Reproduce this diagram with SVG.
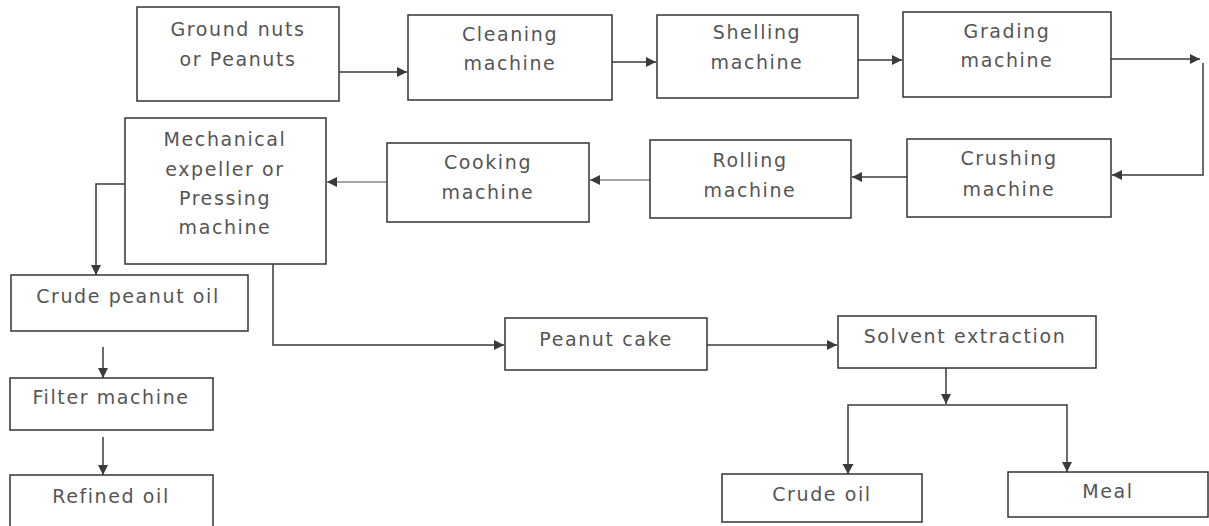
<svg xmlns="http://www.w3.org/2000/svg" width="1209" height="526" viewBox="0 0 1209 526">
<style>
.box{fill:#fff;stroke:#333;stroke-width:1.5}
.t{font-family:"DejaVu Sans","Open Sans",sans-serif;font-size:19px;fill:#555;text-anchor:middle;letter-spacing:1.6px}
.c{fill:none;stroke:#3a3a3a;stroke-width:1.5}
.cl{fill:none;stroke:#888;stroke-width:1.3}
</style>
<defs>
<marker id="ah" viewBox="0 0 10 10" refX="10" refY="5" markerWidth="11" markerHeight="10" markerUnits="userSpaceOnUse" orient="auto">
<path d="M0,0 L10,5 L0,10 z" fill="#3a3a3a"/>
</marker>
</defs>
<rect width="1209" height="526" fill="#fff"/>
<g id="connectors">
<line class="c" x1="339" y1="72" x2="407" y2="72" marker-end="url(#ah)"/>
<line class="c" x1="612" y1="62" x2="656" y2="62" marker-end="url(#ah)"/>
<line class="c" x1="858" y1="60" x2="902" y2="60" marker-end="url(#ah)"/>
<line class="c" x1="1111" y1="59" x2="1200" y2="59" marker-end="url(#ah)"/>
<path class="c" d="M1203,63 L1203,175 L1112,175" marker-end="url(#ah)"/>
<line class="c" x1="907" y1="177" x2="852" y2="177" marker-end="url(#ah)"/>
<line class="cl" x1="650" y1="180" x2="590" y2="180" marker-end="url(#ah)"/>
<line class="cl" x1="387" y1="182" x2="327" y2="182" marker-end="url(#ah)"/>
<path class="c" d="M125,184 L96,184 L96,275" marker-end="url(#ah)"/>
<line class="c" x1="103" y1="347" x2="103" y2="378" marker-end="url(#ah)"/>
<line class="c" x1="103" y1="437" x2="103" y2="475" marker-end="url(#ah)"/>
<path class="c" d="M273,264 L273,345 L504,345" marker-end="url(#ah)"/>
<line class="c" x1="707" y1="345" x2="837" y2="345" marker-end="url(#ah)"/>
<line class="c" x1="946" y1="368" x2="946" y2="404" marker-end="url(#ah)"/>
<path class="c" d="M848,474 L848,405 L1067,405 L1067,472" marker-end="url(#ah)"/>
<path d="M842.5,464 L853.5,464 L848,474 z" fill="#3a3a3a"/>
</g>
<g id="n1"><rect class="box" x="137" y="7" width="202" height="94"/><text class="t" x="238" y="36">Ground nuts</text><text class="t" x="238" y="66">or Peanuts</text></g>
<g id="n2"><rect class="box" x="408" y="15" width="204" height="85"/><text class="t" x="510" y="41">Cleaning</text><text class="t" x="510" y="70">machine</text></g>
<g id="n3"><rect class="box" x="657" y="15" width="201" height="83"/><text class="t" x="757" y="39">Shelling</text><text class="t" x="757" y="69">machine</text></g>
<g id="n4"><rect class="box" x="903" y="12" width="208" height="85"/><text class="t" x="1007" y="38">Grading</text><text class="t" x="1007" y="67">machine</text></g>
<g id="n5"><rect class="box" x="907" y="139" width="204" height="78"/><text class="t" x="1009" y="165">Crushing</text><text class="t" x="1009" y="196">machine</text></g>
<g id="n6"><rect class="box" x="650" y="140" width="201" height="78"/><text class="t" x="750" y="167">Rolling</text><text class="t" x="750" y="197">machine</text></g>
<g id="n7"><rect class="box" x="387" y="143" width="202" height="79"/><text class="t" x="488" y="169">Cooking</text><text class="t" x="488" y="199">machine</text></g>
<g id="n8"><rect class="box" x="125" y="118" width="201" height="146"/><text class="t" x="225" y="146">Mechanical</text><text class="t" x="225" y="176">expeller or</text><text class="t" x="225" y="205">Pressing</text><text class="t" x="225" y="234">machine</text></g>
<g id="n9"><rect class="box" x="11" y="275" width="237" height="56"/><text class="t" x="128" y="303">Crude peanut oil</text></g>
<g id="n10"><rect class="box" x="10" y="378" width="203" height="52"/><text class="t" x="111" y="404">Filter machine</text></g>
<g id="n11"><rect class="box" x="10" y="475" width="203" height="60"/><text class="t" x="111" y="503">Refined oil</text></g>
<g id="n12"><rect class="box" x="505" y="318" width="202" height="52"/><text class="t" x="606" y="346">Peanut cake</text></g>
<g id="n13"><rect class="box" x="838" y="316" width="258" height="52"/><text class="t" x="965" y="343">Solvent extraction</text></g>
<g id="n14"><rect class="box" x="722" y="474" width="200" height="48"/><text class="t" x="822" y="501">Crude oil</text></g>
<g id="n15"><rect class="box" x="1008" y="472" width="200" height="45"/><text class="t" x="1108" y="498">Meal</text></g>
</svg>
